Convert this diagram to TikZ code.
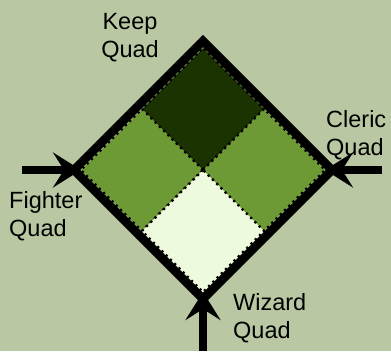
\documentclass[tikz,border=0pt]{standalone}
\usepackage{fontspec}
\setmainfont{Liberation Sans}
\usetikzlibrary{arrows.meta}

\definecolor{bgcol}{RGB}{185,200,162}
\definecolor{keepcol}{RGB}{26,51,0}
\definecolor{sidecol}{RGB}{110,154,53}
\definecolor{wizcol}{RGB}{238,250,222}

\begin{document}
\begin{tikzpicture}[x=1pt,y=-1pt,>={Stealth[length=28pt,width=35pt,inset=11pt]},
    quad/.style={draw=black,line width=2.2pt,dash pattern=on 2.2pt off 3.8pt},
    lbl/.style={font=\fontsize{23.5}{27.5}\selectfont,align=left,inner sep=0pt},
    entry/.style={line width=8pt,->}]
    \def\cx{203}
    \def\cy{170}
    \def\s{61}
    \def\r{129}

    \fill[bgcol] (0,0) rectangle (391,351);
    \useasboundingbox (0,0) rectangle (391,351);

    % the four quads
    \filldraw[quad,fill=keepcol] (\cx,\cy) -- ++(-\s,-\s) -- ++(\s,-\s) -- ++(\s,\s) -- cycle;
    \filldraw[quad,fill=sidecol] (\cx,\cy) -- ++(-\s,-\s) -- ++(-\s,\s) -- ++(\s,\s) -- cycle;
    \filldraw[quad,fill=sidecol] (\cx,\cy) -- ++(\s,-\s) -- ++(\s,\s) -- ++(-\s,\s) -- cycle;
    \filldraw[quad,fill=wizcol] (\cx,\cy) -- ++(-\s,\s) -- ++(\s,\s) -- ++(\s,-\s) -- cycle;

    % outer wall
    \coordinate (top) at (\cx,\cy-\r);
    \coordinate (right) at (\cx+\r,\cy);
    \coordinate (bottom) at (\cx,\cy+\r);
    \coordinate (left) at (\cx-\r,\cy);
    \draw[line width=8.5pt,line join=miter] (top) -- (right) -- (bottom) -- (left) -- cycle;

    % entrances
    \coordinate (leftgate) at (\cx-2*\s,\cy);
    \coordinate (rightgate) at (\cx+2*\s,\cy);
    \coordinate (bottomgate) at (\cx,\cy+2*\s);
    \coordinate (fighterend) at (22,\cy);
    \coordinate (clericend) at (382,\cy);
    \coordinate (wizardend) at (\cx,351);
    \draw[entry] (fighterend) -- (leftgate);
    \draw[entry] (clericend) -- (rightgate);
    \draw[entry] (wizardend) -- (bottomgate);

    \node[lbl,align=center] (keep) at (130,37.5) {Keep\\Quad};
    \node[lbl,anchor=west] (cleric) at (326,135) {Cleric\\Quad};
    \node[lbl,anchor=west] (fighter) at (9,216) {Fighter\\Quad};
    \node[lbl,anchor=west] (wizard) at (233,318) {Wizard\\Quad};
\end{tikzpicture}
\end{document}
